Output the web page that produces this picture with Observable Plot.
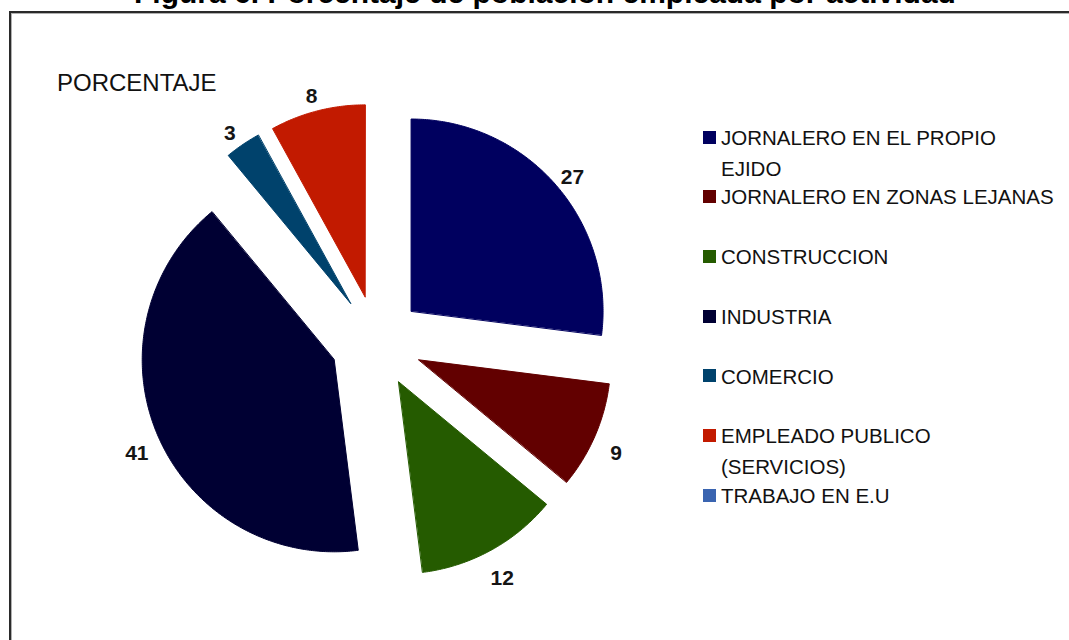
<!DOCTYPE html>
<html>
<head>
<meta charset="utf-8">
<script src="https://cdn.jsdelivr.net/npm/d3@7"></script>
<script src="https://cdn.jsdelivr.net/npm/@observablehq/plot@0.6"></script>
<style>
  html, body { margin: 0; padding: 0; background: #fff; overflow: hidden; }
  #page { position: relative; width: 1069px; height: 640px; overflow: hidden; font-family: "Liberation Sans", Arial, sans-serif; }
  #title { position: absolute; left: 0; width: 1090px; top: -22px; text-align: center; font-weight: bold; font-size: 30px; line-height: 30px; color: #000; white-space: nowrap; }
  #frame { position: absolute; left: 9px; top: 11px; width: 1200px; height: 800px; border-left: 2px solid #2a2a2a; border-top: 2px solid #2a2a2a; box-shadow: inset 1px 1px 0 #b0b0b0; }
  #chart { position: absolute; left: 0; top: 0; }
  #ytitle { position: absolute; left: 57px; top: 68px; font-size: 24px; line-height: 30px; color: #111; }
  .item { position: absolute; left: 703px; }
  .sw { position: absolute; left: 0; width: 13px; height: 13px; }
  .lab { position: absolute; left: 18px; top: 0; width: 340px; font-size: 20.5px; line-height: 31px; color: #111; }
</style>
</head>
<body>
<div id="page">
  <div id="title">Figura 6. Porcentaje de población empleada por actividad</div>
  <div id="frame"></div>
  <div id="chart"></div>
  <div id="ytitle">PORCENTAJE</div>
  <div id="legend"></div>
</div>
<script>
// ---- data ----
const categories = [
  "JORNALERO EN EL PROPIO EJIDO",
  "JORNALERO EN ZONAS LEJANAS",
  "CONSTRUCCION",
  "INDUSTRIA",
  "COMERCIO",
  "EMPLEADO PUBLICO (SERVICIOS)",
  "TRABAJO EN E.U"
];
const values = [27, 9, 12, 41, 3, 8, 0];
const colors = ["#00005f", "#620000", "#255b00", "#000033", "#00426c", "#c21a00", "#3a64b0"];

// ---- layout constants (pixels) ----
const W = 1069, H = 640;
const cx = 376, cy = 341, rPx = 192;   // pie center & radius
const explode = 0.24;                    // in radius units
const labelR = 1.36;                     // label distance in radius units

const arcs = d3.pie().sort(null).value(d => d.value)(
  categories.map((c, i) => ({cat: c, value: values[i]}))
).filter(a => a.data.value > 0);

// polygon vertices of each exploded slice, in radius units (y up)
const pts = [];
for (const a of arcs) {
  const m = (a.startAngle + a.endAngle) / 2;
  const ox = explode * Math.sin(m), oy = explode * Math.cos(m);
  pts.push({cat: a.data.cat, x: ox, y: oy});
  const n = Math.max(4, Math.ceil((a.endAngle - a.startAngle) / 0.01));
  for (let k = 0; k <= n; k++) {
    const t = a.startAngle + (a.endAngle - a.startAngle) * k / n;
    pts.push({cat: a.data.cat, x: ox + Math.sin(t), y: oy + Math.cos(t)});
  }
}
const labels = arcs.map(a => {
  const m = (a.startAngle + a.endAngle) / 2;
  return {x: labelR * Math.sin(m), y: labelR * Math.cos(m), text: String(a.data.value)};
});

const chart = Plot.plot({
  width: W, height: H, margin: 0,
  style: {background: "transparent", overflow: "visible"},
  x: {domain: [-cx / rPx, (W - cx) / rPx], axis: null},
  y: {domain: [-(H - cy) / rPx, cy / rPx], axis: null},
  color: {domain: categories, range: colors},
  marks: [
    Plot.line(pts, {x: "x", y: "y", z: "cat", fill: "cat", stroke: "cat", strokeWidth: 1, curve: "linear-closed"}),
    Plot.text(labels, {x: "x", y: "y", dy: 8, text: "text", fontSize: 21, fontWeight: "bold", fill: "#151515",
      fontFamily: "Liberation Sans, Arial, sans-serif"})
  ]
});
document.getElementById("chart").appendChild(chart);

// legend
const legend = document.getElementById("legend");
categories.forEach((c, i) => {
  const capCenter = 137 + 59.7 * i;
  const item = document.createElement("div");
  item.className = "item";
  item.style.top = (capCenter - 15.25) + "px";
  const sw = document.createElement("div");
  sw.className = "sw";
  sw.style.background = colors[i];
  sw.style.top = (15.25 - 6.5) + "px";
  const lab = document.createElement("div");
  lab.className = "lab";
  lab.textContent = c;
  item.appendChild(sw);
  item.appendChild(lab);
  legend.appendChild(item);
});
</script>
</body>
</html>
